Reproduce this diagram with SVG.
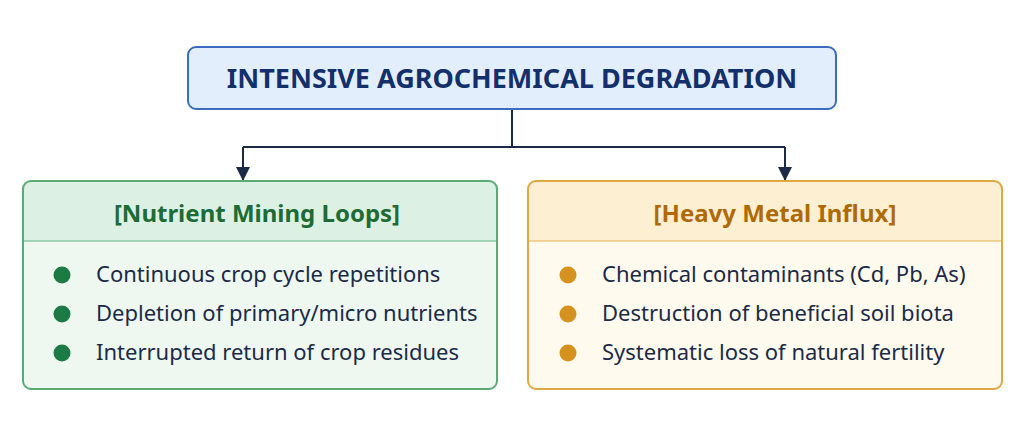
<svg xmlns="http://www.w3.org/2000/svg" width="1024" height="442" viewBox="0 0 1024 442">
<defs>
<marker id="arr" viewBox="0 0 14 14" refX="13" refY="7" markerWidth="14" markerHeight="14" markerUnits="userSpaceOnUse" orient="auto">
<path d="M0,0 L14,7 L0,14 z" fill="#1c2b45"/>
</marker>
<style>
text{font-family:"Noto Sans","Open Sans","DejaVu Sans",sans-serif}
.title{font-size:27px;font-weight:700;fill:#14306b}
.hdr{font-size:24px;font-weight:700}
.item{font-size:22px;fill:#1b2a47}
.conn{fill:none;stroke:#1c2b45;stroke-width:2}
</style>
</defs>
<rect width="1024" height="442" fill="#ffffff"/>
<g id="connectors">
<path class="conn" d="M512,109 V147 M243,147 H785"/>
<path class="conn" d="M243,147 V180" marker-end="url(#arr)"/>
<path class="conn" d="M785,147 V180" marker-end="url(#arr)"/>
</g>
<g id="title">
<rect x="188" y="47" width="648" height="62" rx="8" fill="#e3eefc" stroke="#3b6cc2" stroke-width="2"/>
<text class="title" x="512" y="88" text-anchor="middle">INTENSIVE AGROCHEMICAL DEGRADATION</text>
</g>
<g id="nutrient">
<rect x="23" y="181" width="474" height="208" rx="8" fill="#eef8f1"/>
<path d="M23,241 V189 a8,8 0 0 1 8,-8 H489 a8,8 0 0 1 8,8 V241 z" fill="#dcf1e3"/>
<line x1="23" y1="241" x2="497" y2="241" stroke="#8cc7a0" stroke-width="1.5"/>
<rect x="23" y="181" width="474" height="208" rx="8" fill="none" stroke="#5aaa74" stroke-width="2"/>
<text class="hdr" x="257" y="222" text-anchor="middle" fill="#1d6b35">[Nutrient Mining Loops]</text>
<circle cx="62" cy="275" r="8.5" fill="#1c7a45"/>
<circle cx="62" cy="314" r="8.5" fill="#1c7a45"/>
<circle cx="62" cy="353" r="8.5" fill="#1c7a45"/>
<text class="item" x="96" y="282">Continuous crop cycle repetitions</text>
<text class="item" x="96" y="321">Depletion of primary/micro nutrients</text>
<text class="item" x="96" y="360">Interrupted return of crop residues</text>
</g>
<g id="metal">
<rect x="528" y="181" width="474" height="208" rx="8" fill="#fefaee"/>
<path d="M528,241 V189 a8,8 0 0 1 8,-8 H994 a8,8 0 0 1 8,8 V241 z" fill="#fdf0d2"/>
<line x1="528" y1="241" x2="1002" y2="241" stroke="#ecc77e" stroke-width="1.5"/>
<rect x="528" y="181" width="474" height="208" rx="8" fill="none" stroke="#e0a744" stroke-width="2"/>
<text class="hdr" x="775" y="222" text-anchor="middle" fill="#b06a05">[Heavy Metal Influx]</text>
<circle cx="568" cy="275" r="8.5" fill="#d6921f"/>
<circle cx="568" cy="314" r="8.5" fill="#d6921f"/>
<circle cx="568" cy="353" r="8.5" fill="#d6921f"/>
<text class="item" x="602" y="282">Chemical contaminants (Cd, Pb, As)</text>
<text class="item" x="602" y="321">Destruction of beneficial soil biota</text>
<text class="item" x="602" y="360">Systematic loss of natural fertility</text>
</g>
</svg>
